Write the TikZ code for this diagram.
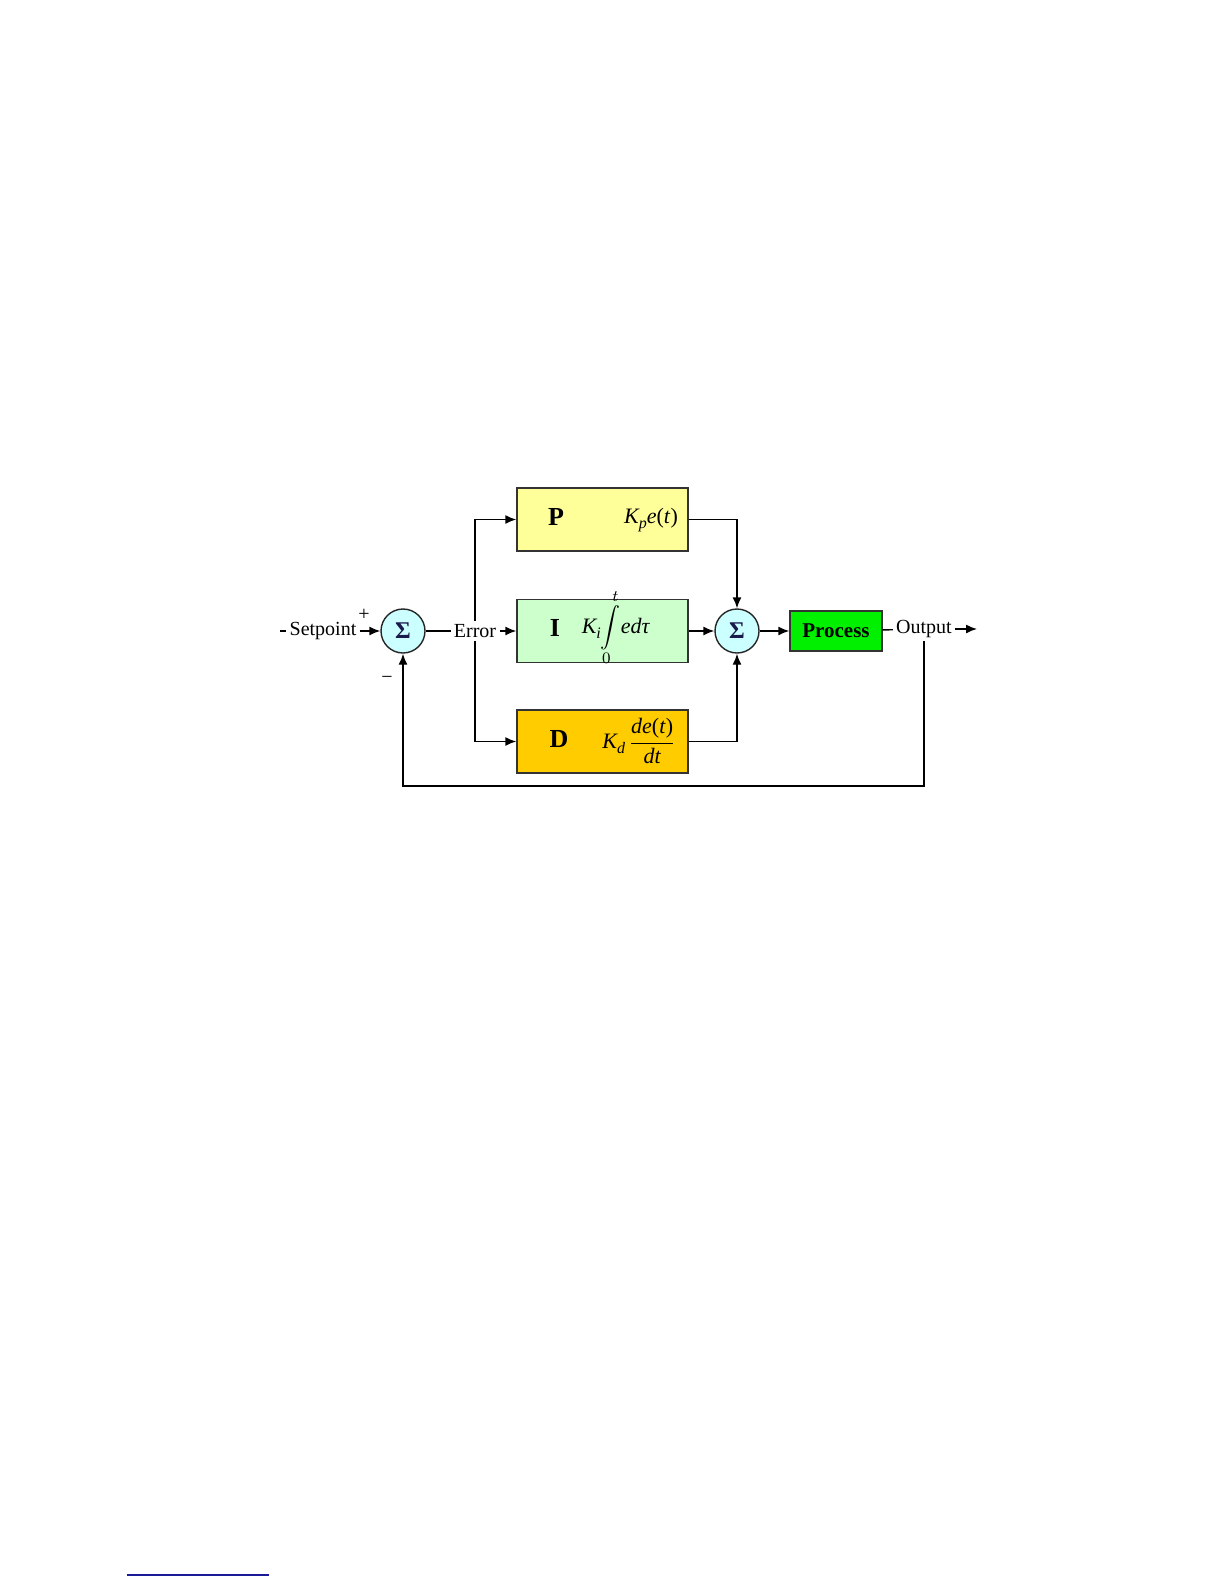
\documentclass[tikz,border=0pt]{standalone}
\usepackage{fontspec}
\setmainfont{Liberation Serif}
\usetikzlibrary{arrows.meta}

\definecolor{pyellow}{HTML}{FFFF99}
\definecolor{igreen}{HTML}{CCFFCC}
\definecolor{dorange}{HTML}{FFCC00}
\definecolor{procgreen}{HTML}{00F000}
\definecolor{sumcyan}{HTML}{CCFFFF}
\definecolor{sigmablue}{HTML}{1A1A4D}
\definecolor{linkblue}{HTML}{1A1A99}

\newcommand{\lowidx}[1]{\raisebox{-0.5ex}{\footnotesize\itshape #1}}

\begin{document}
\begin{tikzpicture}[
    x=0.5pt, y=-0.5pt,
    >={Latex[length=5.5pt,width=4.5pt]},
    every node/.style={font=\fontsize{10}{12}\selectfont},
    block/.style={
        draw=black!80,
        line width=0.7pt,
        minimum width=85.5pt,
        minimum height=31.5pt,
        inner sep=0pt
    },
    sumnode/.style={
        circle,
        draw=black!85,
        line width=0.7pt,
        fill=sumcyan,
        text=sigmablue,
        minimum size=22pt,
        inner sep=0pt,
        font=\fontsize{12}{12}\selectfont\bfseries
    },
    tag/.style={inner sep=1.5pt},
    letter/.style={font=\fontsize{13}{13}\selectfont\bfseries},
    formula/.style={font=\fontsize{11}{13}\selectfont},
    wire/.style={line width=0.7pt}
]
\useasboundingbox (0,0) rectangle (1224,1584);

% summing junctions and blocks
\node[sumnode] (sum1) at (403,631) {Σ};
\node[block, fill=pyellow] (P) at (602.5,519.5) {};
\node[block, fill=igreen] (I) at (602.5,631) {};
\node[block, fill=dorange] (D) at (602.5,741.5) {};
\node[sumnode] (sum2) at (737,631) {Σ};
\node[block, fill=procgreen, minimum width=46pt, minimum height=20pt,
      font=\fontsize{10.5}{11}\selectfont\bfseries] (proc) at (836,631) {Process};

% block contents
\node[letter] (Plab) at (556,517) {P};
\node[formula] (Pfun) at (651,520) {{\itshape K\lowidx{p}e}(\textit{t})};
\node[letter] (Ilab) at (555,628) {I};
\node[formula] (Ifun) at (616,628) {{\itshape K\lowidx{i}}$\displaystyle\int\limits_{0}^{t}$\textit{edτ}};
\node[letter] (Dlab) at (559,739) {D};
\node[formula] (Dfun) at (639,741) {{\itshape K\lowidx{d}}\,$\displaystyle\frac{\mbox{\itshape de\/\upshape(\itshape t\/\upshape)}}{\mbox{\itshape dt}}$};

% signal labels
\node[tag] (sp) at (323,631) {Setpoint};
\node[tag] (err) at (475,631) {Error};
\node[tag] (out) at (924,629) {Output};
\node (plus) at (364,615) {+};
\node (minus) at (387,680) {−};

\coordinate (spin) at (280,631);
\coordinate (outend) at (977,629);
\coordinate (fbcorner) at (403,786);

% connectors
\draw[wire] (spin) -- (sp);
\draw[wire, ->] (sp) -- (sum1);
\draw[wire] (sum1) -- (err);
\draw[wire, ->] (err) -- (I);
\draw[wire, ->] (err.north) |- (P);
\draw[wire, ->] (err.south) |- (D);
\draw[wire, ->] (P) -| (sum2);
\draw[wire, ->] (I) -- (sum2);
\draw[wire, ->] (D) -| (sum2);
\draw[wire, ->] (sum2) -- (proc);
\draw[wire] (proc) -- (out);
\draw[wire, ->] (out) -- (outend);
\draw[wire, ->] (out.south) |- (fbcorner) -- (sum1);

\draw[line width=1pt, draw=linkblue] (127,1575) -- (269,1575);
\end{tikzpicture}
\end{document}
